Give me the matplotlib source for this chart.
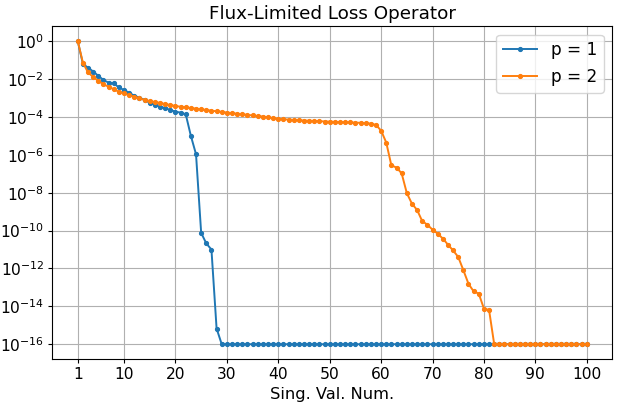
import numpy as np
import matplotlib
matplotlib.use("Agg")
from matplotlib import pyplot as plt

plt.rcParams["font.size"] = 11.2

# singular value index
sv_num = np.arange(1, 101)

# log10 of normalized singular values, p = 1
log_sv_p1 = [0.0, -1.2, -1.4, -1.6, -1.83, -2.05, -2.19, -2.23, -2.44, -2.58,
             -2.72, -2.88, -2.98, -3.1, -3.25, -3.37, -3.46, -3.54, -3.63, -3.72,
             -3.77, -3.86, -5.0, -5.97, -10.12, -10.68, -11.0, -15.17] + [-16.0] * 72

# log10 of normalized singular values, p = 2
log_sv_p2 = [0.0, -1.14, -1.65, -1.89, -2.09, -2.28, -2.4, -2.54, -2.67, -2.75,
             -2.86, -2.93, -3.02, -3.1, -3.16, -3.21, -3.26, -3.32, -3.37, -3.42,
             -3.46, -3.49, -3.53, -3.56, -3.6, -3.63, -3.67, -3.7, -3.73, -3.77,
             -3.8, -3.83, -3.86, -3.89, -3.92, -3.95, -3.98, -4.02, -4.06, -4.1,
             -4.12, -4.14, -4.16, -4.17, -4.19, -4.2, -4.21, -4.22, -4.24, -4.25,
             -4.26, -4.27, -4.28, -4.29, -4.3, -4.31, -4.33, -4.35, -4.42, -4.72,
             -5.35, -6.56, -6.67, -6.98, -8.02, -8.58, -8.91, -9.5, -9.69, -9.95,
             -10.16, -10.42, -10.74, -11.05, -11.39, -12.09, -12.81, -13.21, -13.33, -14.12,
             -14.19] + [-16.0] * 19

x_ticks = [1, 10, 20, 30, 40, 50, 60, 70, 80, 90, 100]
y_ticks = [10.0 ** k for k in range(-16, 1, 2)]

fig = plt.figure(figsize=(6.2, 4.07), dpi=100)
ax = fig.add_axes([0.0844, 0.117, 0.903, 0.819])

ax.semilogy(sv_num, np.power(10.0, log_sv_p1), ".-", markersize=5.5, linewidth=1.4, label="p = 1")
ax.semilogy(sv_num, np.power(10.0, log_sv_p2), ".-", markersize=5.5, linewidth=1.4, label="p = 2")

ax.set_xticks(x_ticks)
ax.set_yticks(y_ticks)
ax.minorticks_off()
ax.tick_params(length=3, pad=2.8)
ax.grid(True)
ax.set_xlabel("Sing. Val. Num.", fontsize=11.7, labelpad=3)
ax.set_title("Flux-Limited Loss Operator", fontsize=13.2, pad=5)
ax.legend(loc="upper right", fontsize=12.2)

fig.savefig("out.png", dpi=100)
